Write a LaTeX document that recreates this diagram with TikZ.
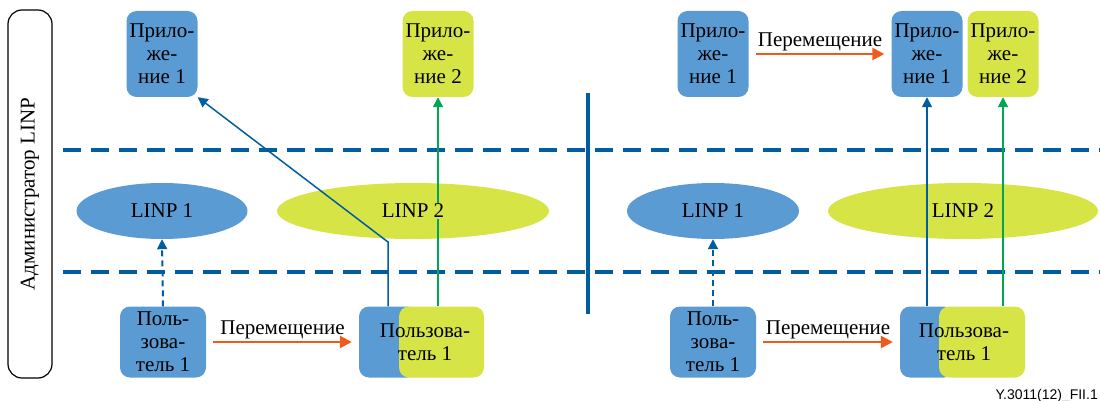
\documentclass[tikz,border=0pt]{standalone}
\usepackage{fontspec}
\setmainfont{Liberation Serif}
\setsansfont{Liberation Sans}
\usepackage{tikz}
\usetikzlibrary{shapes.geometric,arrows.meta}

\definecolor{linpblue}{RGB}{91,155,211}
\definecolor{linpyellow}{RGB}{215,228,70}
\definecolor{dashblue}{RGB}{0,94,160}
\definecolor{moveorange}{RGB}{240,90,30}
\definecolor{accgreen}{RGB}{0,166,81}

\begin{document}
\begin{tikzpicture}[x=1pt, y=-1pt, >={Triangle[length=10pt,width=10pt]},
    box/.style={rounded corners=10pt, inner sep=0pt, align=center, font=\fontsize{21}{23}\selectfont},
    app node/.style={box, fill=linpblue, minimum width=71, minimum height=86},
    user node/.style={box, fill=linpblue, minimum width=86, minimum height=71},
    linp node/.style={ellipse, fill=#1, minimum height=56, inner sep=0pt},
    linp text/.style={inner sep=1pt, font=\fontsize{21}{23}\selectfont},
    layer line/.style={dashblue, line width=4pt, dash pattern=on 17.5pt off 10.5pt},
    dash arrow/.style={->, dashblue, line width=2pt, dash pattern=on 6pt off 4pt},
    blue arrow/.style={->, dashblue, line width=1.5pt},
    green arrow/.style={->, accgreen, line width=1.8pt},
    move arrow/.style={-{Triangle[length=12pt,width=12pt]}, moveorange, line width=2.5pt, shorten <=7pt, shorten >=7pt},
    move label/.style={above, inner sep=1.5pt, text=black, font=\fontsize{21}{23}\selectfont}]
    \useasboundingbox (0,0) rectangle (1100,401);

    \draw[layer line] (63,150) -- (1100,150);
    \draw[layer line] (63,272) -- (1100,272);
    \draw[dashblue, line width=3.3pt] (588,93) -- (588,314);

    \node[draw, rounded corners=14pt, line width=1.2pt, minimum width=368, minimum height=44, rotate=90, font=\fontsize{21}{23}\selectfont] (admin) at (30,194) {Администратор LINP};

    \node[app node] (app1l) at (162,54) {Прило-\\же-\\ние 1};
    \node[app node, fill=linpyellow] (app2l) at (438,54) {Прило-\\же-\\ние 2};
    \node[linp node=linpblue, minimum width=171] (linp1l) at (162,211) {};
    \node[linp node=linpyellow, minimum width=272] (linp2l) at (413,211) {};
    \node[user node] (user1l) at (163,342) {Поль-\\зова-\\тель 1};
    \node[user node, minimum width=58] (ubl) at (388,342) {};
    \node[user node, fill=linpyellow, minimum width=85] (uyl) at (441.5,342) {};
    \node[box] (userl) at (425,342) {Пользова-\\тель 1};

    \node[app node] (app1r) at (713,54) {Прило-\\же-\\ние 1};
    \node[app node] (app1m) at (927,54) {Прило-\\же-\\ние 1};
    \node[app node, fill=linpyellow] (app2r) at (1003,54) {Прило-\\же-\\ние 2};
    \node[linp node=linpblue, minimum width=172] (linp1r) at (713,211) {};
    \node[linp node=linpyellow, minimum width=270] (linp2r) at (963,211) {};
    \node[user node] (user1r) at (713,342) {Поль-\\зова-\\тель 1};
    \node[user node, minimum width=54] (ubr) at (927,342) {};
    \node[user node, fill=linpyellow, minimum width=86] (uyr) at (982,342) {};
    \node[box] (userr) at (964,342) {Пользова-\\тель 1};

    \coordinate (bendl) at (388,242);
    \draw[dash arrow] (user1l.north) -- (linp1l.south);
    \draw[blue arrow] (ubl.north) -- (bendl) -- (app1l.south east);
    \draw[green arrow] (uyl.north -| app2l) -- (app2l.south);
    \draw[move arrow] (user1l) -- node[move label] (movel) {Перемещение} (ubl);

    \draw[dash arrow] (user1r.north) -- (linp1r.south);
    \draw[blue arrow] (ubr.north) -- (app1m.south);
    \draw[green arrow] (uyr.north -| app2r) -- (app2r.south);
    \draw[move arrow] (user1r) -- node[move label] (movebr) {Перемещение} (ubr);
    \draw[move arrow] (app1r) -- node[move label] (movetr) {Перемещение} (app1m);

    \node[linp text, fill=linpblue] (t1l) at (linp1l) {LINP 1};
    \node[linp text, fill=linpyellow] (t2l) at (linp2l) {LINP 2};
    \node[linp text, fill=linpblue] (t1r) at (linp1r) {LINP 1};
    \node[linp text, fill=linpyellow] (t2r) at (linp2r) {LINP 2};

    \node[anchor=base east, inner sep=0pt, font=\sffamily\fontsize{14}{15}\selectfont] (figid) at (1098,399) {Y.3011(12)\_FII.1};
\end{tikzpicture}
\end{document}
